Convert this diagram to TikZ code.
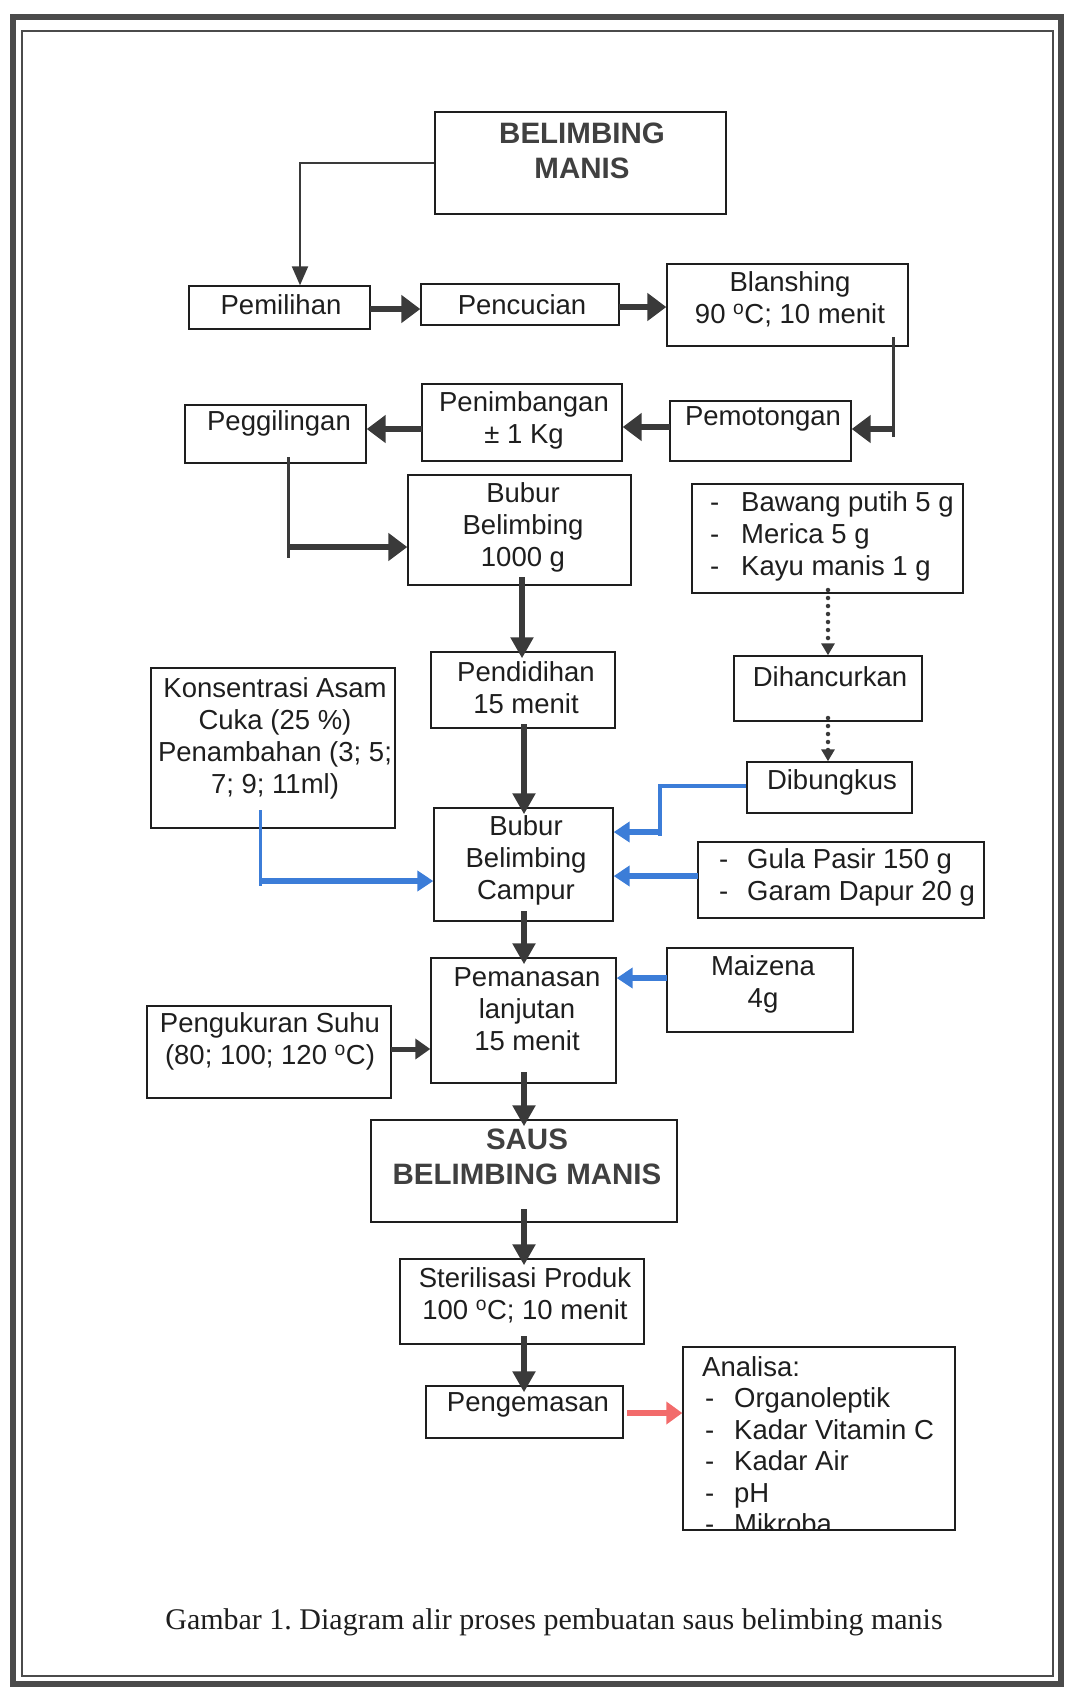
\documentclass[tikz,border=0pt]{standalone}
\usepackage{fontspec}
\setmainfont{Liberation Sans}
\newfontfamily\capfont{Liberation Serif}
\usetikzlibrary{arrows.meta,fit}
\definecolor{ink}{HTML}{1E1E1E}
\definecolor{arr}{HTML}{3A3A3A}
\definecolor{blu}{HTML}{3C7DD8}
\definecolor{rd}{HTML}{F26B6B}
\newcommand\mybox[5]{\node[box, fit={(#2,#3) (#4,#5)}] (#1) {};}
\newcommand\dl[1]{\makebox[#1][l]{-}}
\frenchspacing
\begin{document}
\begin{tikzpicture}[x=1pt,y=-1pt,
 box/.style={draw=ink, line width=1.4pt, inner sep=0pt},
 txt/.style={font=\fontsize{27.5}{32}\selectfont, text=ink, align=center, inner sep=0pt},
 btxt/.style={font=\fontsize{29.5}{35}\selectfont\bfseries, text=ink!85, align=center, inner sep=0pt},
 ltxt/.style={txt, align=left},
 bigarr/.style={draw=arr, line width=6.5pt, -{Triangle[length=19pt,width=27pt]}},
 downarr/.style={draw=arr, line width=6pt, shorten >=-7pt, -{Triangle[length=21pt,width=22pt]}},
 medarr/.style={draw=arr, line width=5pt, -{Triangle[length=15pt,width=20pt]}},
 thinarr/.style={draw=arr, line width=2.2pt, -{Triangle[length=19pt,width=16pt]}},
 vline/.style={draw=arr, line width=3pt},
 dotarr/.style={draw=arr, line width=4.5pt, line cap=round, dash pattern=on 0pt off 8pt, -{Triangle[length=12pt,width=13pt]}},
 blueline/.style={draw=blu, line width=4.5pt},
 bluethin/.style={draw=blu, line width=3pt},
 bluearr/.style={draw=blu, line width=6pt, -{Triangle[length=16pt,width=20pt]}},
 redarr/.style={draw=rd, line width=5.5pt, -{Triangle[length=16pt,width=22pt]}}
]
\useasboundingbox (0,0) rectangle (1069,1690);
% frame
\draw[ink!80, line width=6.5pt] (13,17) rectangle (1061,1684);
\draw[ink!80, line width=1.8pt] (22,31) rectangle (1053,1676);

% boxes
\mybox{bm}{435}{112}{726}{214}
\mybox{pemilihan}{189}{286}{370}{329}
\mybox{pencucian}{421}{284}{619}{325}
\mybox{blanshing}{667}{264}{908}{346}
\mybox{pemotongan}{670}{401}{851}{461}
\mybox{penimbangan}{422}{384}{622}{461}
\mybox{peggilingan}{185}{405}{366}{463}
\mybox{bubur}{408}{475}{631}{585}
\mybox{bawang}{692}{484}{963}{593}
\mybox{dihancurkan}{734}{656}{922}{721}
\mybox{pendidihan}{431}{652}{615}{728}
\mybox{konsentrasi}{151}{668}{395}{828}
\mybox{dibungkus}{747}{762}{912}{813}
\mybox{campur}{434}{808}{613}{921}
\mybox{gula}{698}{842}{984}{918}
\mybox{pemanasan}{431}{958}{616}{1083}
\mybox{maizena}{667}{948}{853}{1032}
\mybox{pengukuran}{147}{1006}{391}{1098}
\mybox{saus}{371}{1120}{677}{1222}
\mybox{sterilisasi}{400}{1259}{644}{1344}
\mybox{pengemasan}{426}{1386}{623}{1438}
\mybox{analisa}{683}{1347}{955}{1530}

% texts
\node[btxt] (bmT) at (582,150.5) {BELIMBING\\MANIS};
\node[txt] (pemilihanT) at (281,305) {Pemilihan};
\node[txt] (pencucianT) at (522,305) {Pencucian};
\node[txt] (blanshingT) at (790,299) {Blanshing\\90 \textsuperscript{o}C; 10 menit};
\node[txt] (pemotonganT) at (763,419) {Pemotongan};
\node[txt] (penimbanganT) at (524,420) {Penimbangan\\± 1 Kg};
\node[txt] (peggilinganT) at (279,423) {Peggilingan};
\node[txt] (buburT) at (523,527) {Bubur\\Belimbing\\1000 g};
\node[ltxt, anchor=west] (bawangT) at (710,536) {\dl{31pt}Bawang putih 5 g\\\dl{31pt}Merica 5 g\\\dl{31pt}Kayu manis 1 g};
\node[txt] (dihancurkanT) at (830,677) {Dihancurkan};
\node[txt] (pendidihanT) at (526,688) {Pendidihan\\15 menit};
\node[txt] (konsentrasiT) at (275,738) {Konsentrasi Asam\\Cuka (25 \%)\\Penambahan (3; 5;\\7; 9; 11ml)};
\node[txt] (dibungkusT) at (832,782) {Dibungkus};
\node[txt] (campurT) at (526,860) {Bubur\\Belimbing\\Campur};
\node[ltxt, anchor=west] (gulaT) at (719,877) {\dl{28pt}Gula Pasir 150 g\\\dl{28pt}Garam Dapur 20 g};
\node[txt] (pemanasanT) at (527,1009) {Pemanasan\\lanjutan\\15 menit};
\node[txt] (maizenaT) at (763,984) {Maizena\\4g};
\node[txt] (pengukuranT) at (270,1041) {Pengukuran Suhu\\(80; 100; 120 \textsuperscript{o}C)};
\node[btxt] (sausT) at (527,1157) {SAUS\\BELIMBING MANIS};
\node[txt] (sterilisasiT) at (525,1295) {Sterilisasi Produk\\100 \textsuperscript{o}C; 10 menit};
\node[txt] (pengemasanT) at (528,1405) {Pengemasan};
\begin{scope}
\clip (683,1347) rectangle (955,1530);
\node[ltxt, anchor=north west, font=\fontsize{27.5}{31.5}\selectfont] (analisaT) at (702,1356) {Analisa:\\\hspace*{3pt}\dl{29pt}Organoleptik\\\hspace*{3pt}\dl{29pt}Kadar Vitamin C\\\hspace*{3pt}\dl{29pt}Kadar Air\\\hspace*{3pt}\dl{29pt}pH\\\hspace*{3pt}\dl{29pt}Mikroba};
\end{scope}
\node[font=\capfont\fontsize{30}{36}\selectfont, text=ink, inner sep=0pt] (cap) at (554,1622) {Gambar 1. Diagram alir proses pembuatan saus belimbing manis};

% connectors
\coordinate (a1) at (300,163);
\draw[thinarr] (bm.west) -- (a1) -- (a1 |- pemilihan.north);
\coordinate (b1) at (370,309);
\draw[bigarr] (b1) -- (b1 -| pencucian.west);
\coordinate (c1) at (619,307);
\draw[bigarr] (c1) -- (c1 -| blanshing.west);
\coordinate (d1) at (893,337);
\coordinate (d2) at (893,437);
\coordinate (d3) at (893,429);
\draw[vline] (d1) -- (d2);
\draw[bigarr] (d3) -- (d3 -| pemotongan.east);
\coordinate (e1) at (670,427);
\draw[bigarr] (e1) -- (e1 -| penimbangan.east);
\coordinate (f1) at (422,429);
\draw[bigarr] (f1) -- (f1 -| peggilingan.east);
\coordinate (g1) at (288,457);
\coordinate (g2) at (288,558);
\coordinate (g3) at (288,547);
\draw[vline] (g1) -- (g2);
\draw[bigarr] (g3) -- (g3 -| bubur.west);
\coordinate (h1) at (522,577);
\draw[downarr] (h1) -- (h1 |- pendidihan.north);
\coordinate (i1) at (828,590);
\draw[dotarr] (i1) -- (i1 |- dihancurkan.north);
\coordinate (j1) at (828,718);
\draw[dotarr] (j1) -- (j1 |- dibungkus.north);
\coordinate (k1) at (524,724);
\draw[downarr] (k1) -- (k1 |- campur.north);
\coordinate (l1) at (660,786);
\coordinate (l2) at (660,836);
\coordinate (l3) at (660,832);
\draw[blueline] (l1 -| dibungkus.west) -- (l1) -- (l2);
\draw[bluearr] (l3) -- (l3 -| campur.east);
\coordinate (m1) at (260,810);
\coordinate (m2) at (260,886);
\coordinate (m3) at (260,881);
\draw[bluethin] (m1) -- (m2);
\draw[bluearr] (m3) -- (m3 -| campur.west);
\coordinate (n1) at (698,876);
\draw[bluearr] (n1) -- (n1 -| campur.east);
\coordinate (o1) at (524,911);
\draw[downarr] (o1) -- (o1 |- pemanasan.north);
\coordinate (p1) at (667,978);
\draw[bluearr] (p1) -- (p1 -| pemanasan.east);
\coordinate (q1) at (391,1049);
\draw[medarr] (q1) -- (q1 -| pemanasan.west);
\coordinate (r1) at (524,1072);
\draw[downarr] (r1) -- (r1 |- saus.north);
\coordinate (s1) at (524,1209);
\draw[downarr] (s1) -- (s1 |- sterilisasi.north);
\coordinate (t1) at (524,1336);
\draw[downarr] (t1) -- (t1 |- pengemasan.north);
\coordinate (u1) at (627,1413);
\draw[redarr] (u1) -- (u1 -| analisa.west);
\end{tikzpicture}
\end{document}
